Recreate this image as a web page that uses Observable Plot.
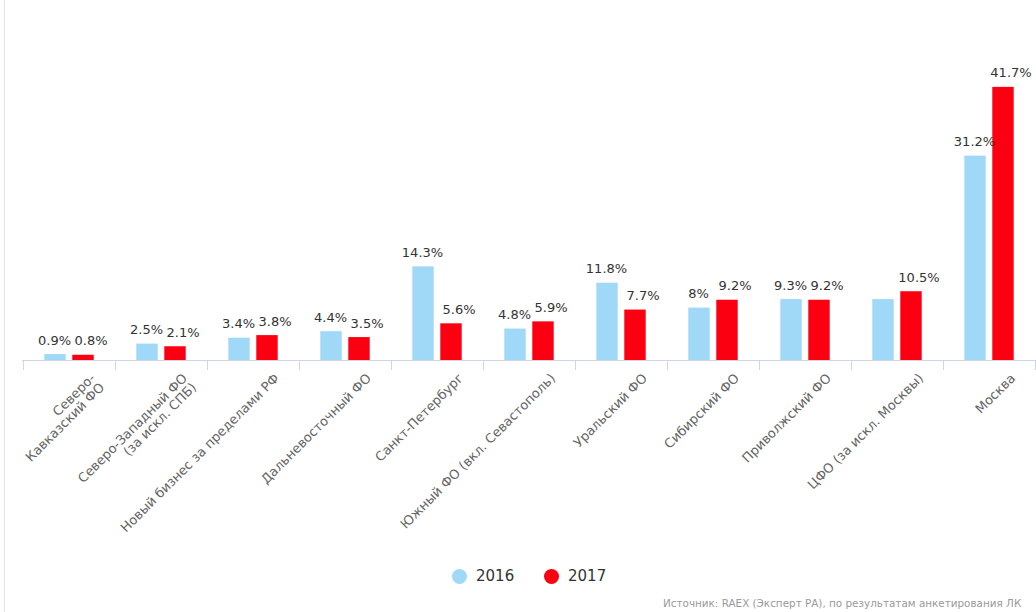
<!DOCTYPE html>
<html>
<head>
<meta charset="utf-8">
<script src="https://cdn.jsdelivr.net/npm/d3@7"></script>
<script src="https://cdn.jsdelivr.net/npm/@observablehq/plot@0.6"></script>
<style>
  html, body { margin: 0; padding: 0; background: #fff; overflow: hidden; width: 1036px; height: 612px; }
  body { position: relative; font-family: "DejaVu Sans", Verdana, sans-serif; }
  #border { position: absolute; left: 4px; top: 0; width: 1px; height: 612px; background: #e3e3e3; }
  #chart { position: absolute; left: 0; top: 0; }
  #legend { position: absolute; top: 565px; left: 0; width: 1036px; height: 22px; font-size: 15px; color: #333; }
  .item { position: absolute; top: 0; display: flex; align-items: center; height: 22px; }
  .dot { width: 15px; height: 15px; border-radius: 50%; margin-right: 9px; }
  #source { position: absolute; top: 597px; left: 663px; font-size: 10.4px; color: #9a9a9a; white-space: nowrap; }
</style>
</head>
<body>
<div id="border"></div>
<div id="chart"></div>
<div id="legend"></div>
<div id="source">Источник: RAEX (Эксперт РА), по результатам анкетирования ЛК</div>
<script>
const categories = [
  "Северо-\nКавказский ФО",
  "Северо-Западный ФО\n(за искл. СПБ)",
  "Новый бизнес за пределами РФ",
  "Дальневосточный ФО",
  "Санкт-Петербург",
  "Южный ФО (вкл. Севастополь)",
  "Уральский ФО",
  "Сибирский ФО",
  "Приволжский ФО",
  "ЦФО (за искл. Москвы)",
  "Москва"
];
const years = ["2016", "2017"];
const values2016 = [0.9, 2.5, 3.4, 4.4, 14.3, 4.8, 11.8, 8, 9.3, 9.3, 31.2];
const values2017 = [0.8, 2.1, 3.8, 3.5, 5.6, 5.9, 7.7, 9.2, 9.2, 10.5, 41.7];
const labels2016 = ["0.9%", "2.5%", "3.4%", "4.4%", "14.3%", "4.8%", "11.8%", "8%", "9.3%", null, "31.2%"];
const labels2017 = ["0.8%", "2.1%", "3.8%", "3.5%", "5.6%", "5.9%", "7.7%", "9.2%", "9.2%", "10.5%", "41.7%"];
const colors = ["#a0d8f8", "#fb0010"];

const W = 1036, H = 560;
const mL = 22, mR = 1, mB = 200;
const yMax = 50;
const pxPerUnit = 6.55;
const mT = (H - mB) - yMax * pxPerUnit;
const bw = (W - mL - mR) / categories.length;
const barW = 21.5, off = 14;

const rows = [];
categories.forEach((c, i) => {
  rows.push({cat: c, year: "2016", value: values2016[i], label: labels2016[i]});
  rows.push({cat: c, year: "2017", value: values2017[i], label: labels2017[i]});
});
const r16 = rows.filter(d => d.year === "2016");
const r17 = rows.filter(d => d.year === "2017");

const axisColor = "#ccd6eb";

const chart = Plot.plot({
  width: W, height: H,
  marginLeft: mL, marginRight: mR, marginTop: mT, marginBottom: mB,
  style: {fontFamily: "'DejaVu Sans', Verdana, sans-serif", background: "transparent", overflow: "visible"},
  x: {type: "band", domain: categories, padding: 0, axis: null},
  y: {domain: [0, yMax], axis: null},
  color: {domain: years, range: colors},
  marks: [
    Plot.barY(r16, {x: "cat", y: "value", fill: colors[0],
      insetLeft: bw / 2 - off - barW / 2, insetRight: bw / 2 + off - barW / 2}),
    Plot.barY(r17, {x: "cat", y: "value", fill: colors[1],
      insetLeft: bw / 2 + off - barW / 2, insetRight: bw / 2 - off - barW / 2}),
    Plot.ruleY([0], {stroke: axisColor, strokeWidth: 1, insetRight: -mR}),
    Plot.axisX({tickSize: 10, tickFormat: () => "", stroke: axisColor, strokeOpacity: 1, dx: -bw / 2, label: null}),
    Plot.axisX([categories[categories.length - 1]], {tickSize: 10, tickFormat: () => "", stroke: axisColor, strokeOpacity: 1, dx: bw / 2, label: null}),
    Plot.axisX({tickSize: 0, tickPadding: 12, tickRotate: -45, dx: 20, lineAnchor: "top", textAnchor: "end",
      fill: "#666", fontSize: 13, label: null}),
    Plot.text(r16.filter(d => d.label), {x: "cat", y: "value", text: "label", dx: -off - 1, dy: -10,
      lineAnchor: "bottom", fill: "#333", fontSize: 13}),
    Plot.text(r17, {x: "cat", y: "value", text: "label", dx: off + 7.5, dy: -10,
      lineAnchor: "bottom", fill: "#333", fontSize: 13})
  ]
});
document.getElementById("chart").appendChild(chart);

const legend = document.getElementById("legend");
const legendX = [452, 544];
years.forEach((y, i) => {
  const item = document.createElement("div");
  item.className = "item";
  item.style.left = legendX[i] + "px";
  item.innerHTML = `<span class="dot" style="background:${colors[i]}"></span><span>${y}</span>`;
  legend.appendChild(item);
});
</script>
</body>
</html>
